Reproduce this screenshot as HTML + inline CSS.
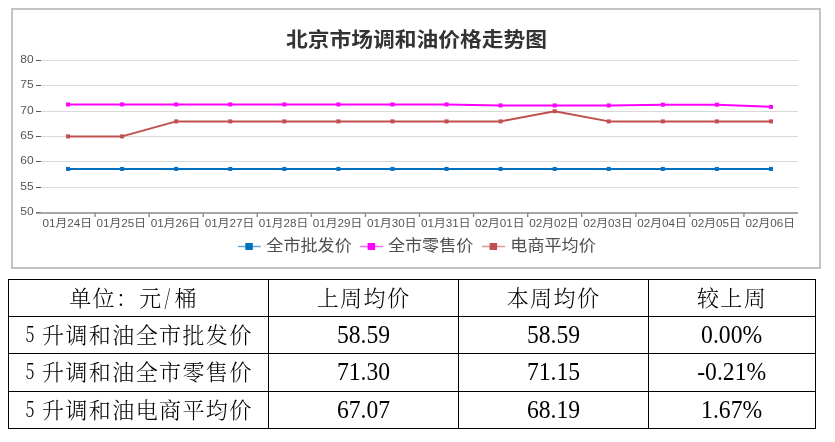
<!DOCTYPE html>
<html><head><meta charset="utf-8">
<style>
html,body{margin:0;padding:0;background:#fff;}
body{width:835px;height:442px;position:relative;overflow:hidden;}
.ax{font-family:"Liberation Sans","Noto Sans CJK SC",sans-serif;font-size:11px;fill:#555;}
.title{font-family:"Liberation Sans","Noto Sans CJK SC",sans-serif;font-size:20px;font-weight:bold;fill:#333;}
.lg{font-family:"Liberation Sans","Noto Sans CJK SC",sans-serif;font-size:16px;fill:#505050;}
.vl{position:absolute;width:1px;background:#000;}
.hl{position:absolute;height:1px;background:#000;}
.cell{position:absolute;display:flex;align-items:center;justify-content:center;
 font-family:"Noto Serif CJK SC",serif;font-weight:300;font-size:22px;letter-spacing:1.4px;color:#000;white-space:pre;line-height:1;}
.cell .d{display:inline-block;width:11.7px;letter-spacing:0;transform:translateY(-0.8px) scaleX(0.75);transform-origin:6px 50%;}
.cell .sp{display:inline-block;width:6px;}
.cell:not(.num)>span{position:relative;top:-1.5px;}
.cell.num>span{display:inline-block;transform:scaleX(0.965);}
.cell.num{font-family:"Liberation Serif",serif;font-size:24.5px;font-weight:400;letter-spacing:0;}
</style></head><body>
<svg width="835" height="272" viewBox="0 0 835 272" style="position:absolute;left:0;top:0"><rect x="12" y="9" width="808" height="259" fill="#fff" stroke="#c3c3c3" stroke-width="2"/><line x1="41.0" y1="187.50" x2="798.0" y2="187.50" stroke="#d9d9d9" stroke-width="1"/><line x1="41.0" y1="161.50" x2="798.0" y2="161.50" stroke="#d9d9d9" stroke-width="1"/><line x1="41.0" y1="136.50" x2="798.0" y2="136.50" stroke="#d9d9d9" stroke-width="1"/><line x1="41.0" y1="111.50" x2="798.0" y2="111.50" stroke="#d9d9d9" stroke-width="1"/><line x1="41.0" y1="85.50" x2="798.0" y2="85.50" stroke="#d9d9d9" stroke-width="1"/><line x1="41.0" y1="60.50" x2="798.0" y2="60.50" stroke="#d9d9d9" stroke-width="1"/><line x1="36" y1="212.50" x2="41" y2="212.50" stroke="#555" stroke-width="1"/><text x="33.6" y="215.00" text-anchor="end" class="ax" textLength="13.4" lengthAdjust="spacingAndGlyphs">50</text><line x1="36" y1="187.50" x2="41" y2="187.50" stroke="#555" stroke-width="1"/><text x="33.6" y="190.00" text-anchor="end" class="ax" textLength="13.4" lengthAdjust="spacingAndGlyphs">55</text><line x1="36" y1="161.50" x2="41" y2="161.50" stroke="#555" stroke-width="1"/><text x="33.6" y="164.00" text-anchor="end" class="ax" textLength="13.4" lengthAdjust="spacingAndGlyphs">60</text><line x1="36" y1="136.50" x2="41" y2="136.50" stroke="#555" stroke-width="1"/><text x="33.6" y="139.00" text-anchor="end" class="ax" textLength="13.4" lengthAdjust="spacingAndGlyphs">65</text><line x1="36" y1="111.50" x2="41" y2="111.50" stroke="#555" stroke-width="1"/><text x="33.6" y="114.00" text-anchor="end" class="ax" textLength="13.4" lengthAdjust="spacingAndGlyphs">70</text><line x1="36" y1="85.50" x2="41" y2="85.50" stroke="#555" stroke-width="1"/><text x="33.6" y="88.00" text-anchor="end" class="ax" textLength="13.4" lengthAdjust="spacingAndGlyphs">75</text><line x1="36" y1="60.50" x2="41" y2="60.50" stroke="#555" stroke-width="1"/><text x="33.6" y="63.00" text-anchor="end" class="ax" textLength="13.4" lengthAdjust="spacingAndGlyphs">80</text><line x1="36" y1="213" x2="798.0" y2="213" stroke="#8a8a8a" stroke-width="1.6"/><line x1="95.07" y1="213" x2="95.07" y2="217" stroke="#8a8a8a" stroke-width="1.4"/><line x1="149.14" y1="213" x2="149.14" y2="217" stroke="#8a8a8a" stroke-width="1.4"/><line x1="203.21" y1="213" x2="203.21" y2="217" stroke="#8a8a8a" stroke-width="1.4"/><line x1="257.29" y1="213" x2="257.29" y2="217" stroke="#8a8a8a" stroke-width="1.4"/><line x1="311.36" y1="213" x2="311.36" y2="217" stroke="#8a8a8a" stroke-width="1.4"/><line x1="365.43" y1="213" x2="365.43" y2="217" stroke="#8a8a8a" stroke-width="1.4"/><line x1="419.50" y1="213" x2="419.50" y2="217" stroke="#8a8a8a" stroke-width="1.4"/><line x1="473.57" y1="213" x2="473.57" y2="217" stroke="#8a8a8a" stroke-width="1.4"/><line x1="527.64" y1="213" x2="527.64" y2="217" stroke="#8a8a8a" stroke-width="1.4"/><line x1="581.71" y1="213" x2="581.71" y2="217" stroke="#8a8a8a" stroke-width="1.4"/><line x1="635.79" y1="213" x2="635.79" y2="217" stroke="#8a8a8a" stroke-width="1.4"/><line x1="689.86" y1="213" x2="689.86" y2="217" stroke="#8a8a8a" stroke-width="1.4"/><line x1="743.93" y1="213" x2="743.93" y2="217" stroke="#8a8a8a" stroke-width="1.4"/><text x="67.2" y="227.2" text-anchor="middle" class="ax" textLength="49.5" lengthAdjust="spacingAndGlyphs">01月24日</text><text x="121.3" y="227.2" text-anchor="middle" class="ax" textLength="49.5" lengthAdjust="spacingAndGlyphs">01月25日</text><text x="175.4" y="227.2" text-anchor="middle" class="ax" textLength="49.5" lengthAdjust="spacingAndGlyphs">01月26日</text><text x="229.4" y="227.2" text-anchor="middle" class="ax" textLength="49.5" lengthAdjust="spacingAndGlyphs">01月27日</text><text x="283.5" y="227.2" text-anchor="middle" class="ax" textLength="49.5" lengthAdjust="spacingAndGlyphs">01月28日</text><text x="337.6" y="227.2" text-anchor="middle" class="ax" textLength="49.5" lengthAdjust="spacingAndGlyphs">01月29日</text><text x="391.7" y="227.2" text-anchor="middle" class="ax" textLength="49.5" lengthAdjust="spacingAndGlyphs">01月30日</text><text x="445.7" y="227.2" text-anchor="middle" class="ax" textLength="49.5" lengthAdjust="spacingAndGlyphs">01月31日</text><text x="499.8" y="227.2" text-anchor="middle" class="ax" textLength="49.5" lengthAdjust="spacingAndGlyphs">02月01日</text><text x="553.9" y="227.2" text-anchor="middle" class="ax" textLength="49.5" lengthAdjust="spacingAndGlyphs">02月02日</text><text x="608.0" y="227.2" text-anchor="middle" class="ax" textLength="49.5" lengthAdjust="spacingAndGlyphs">02月03日</text><text x="662.0" y="227.2" text-anchor="middle" class="ax" textLength="49.5" lengthAdjust="spacingAndGlyphs">02月04日</text><text x="716.1" y="227.2" text-anchor="middle" class="ax" textLength="49.5" lengthAdjust="spacingAndGlyphs">02月05日</text><text x="770.2" y="227.2" text-anchor="middle" class="ax" textLength="49.5" lengthAdjust="spacingAndGlyphs">02月06日</text><polyline points="68.04,136.40 122.11,136.40 176.18,121.38 230.25,121.38 284.32,121.38 338.39,121.38 392.46,121.38 446.54,121.38 500.61,121.38 554.68,111.24 608.75,121.38 662.82,121.38 716.89,121.38 770.96,121.38" fill="none" stroke="#c0504d" stroke-width="2" stroke-linejoin="round"/><rect x="66.04" y="134.40" width="4" height="4" fill="#c0504d"/><rect x="120.11" y="134.40" width="4" height="4" fill="#c0504d"/><rect x="174.18" y="119.38" width="4" height="4" fill="#c0504d"/><rect x="228.25" y="119.38" width="4" height="4" fill="#c0504d"/><rect x="282.32" y="119.38" width="4" height="4" fill="#c0504d"/><rect x="336.39" y="119.38" width="4" height="4" fill="#c0504d"/><rect x="390.46" y="119.38" width="4" height="4" fill="#c0504d"/><rect x="444.54" y="119.38" width="4" height="4" fill="#c0504d"/><rect x="498.61" y="119.38" width="4" height="4" fill="#c0504d"/><rect x="552.68" y="109.24" width="4" height="4" fill="#c0504d"/><rect x="606.75" y="119.38" width="4" height="4" fill="#c0504d"/><rect x="660.82" y="119.38" width="4" height="4" fill="#c0504d"/><rect x="714.89" y="119.38" width="4" height="4" fill="#c0504d"/><rect x="768.96" y="119.38" width="4" height="4" fill="#c0504d"/><polyline points="68.04,104.44 122.11,104.44 176.18,104.44 230.25,104.44 284.32,104.44 338.39,104.44 392.46,104.44 446.54,104.44 500.61,105.45 554.68,105.45 608.75,105.45 662.82,104.69 716.89,104.69 770.96,106.87" fill="none" stroke="#ff00ff" stroke-width="2" stroke-linejoin="round"/><rect x="66.04" y="102.44" width="4" height="4" fill="#ff00ff"/><rect x="120.11" y="102.44" width="4" height="4" fill="#ff00ff"/><rect x="174.18" y="102.44" width="4" height="4" fill="#ff00ff"/><rect x="228.25" y="102.44" width="4" height="4" fill="#ff00ff"/><rect x="282.32" y="102.44" width="4" height="4" fill="#ff00ff"/><rect x="336.39" y="102.44" width="4" height="4" fill="#ff00ff"/><rect x="390.46" y="102.44" width="4" height="4" fill="#ff00ff"/><rect x="444.54" y="102.44" width="4" height="4" fill="#ff00ff"/><rect x="498.61" y="103.45" width="4" height="4" fill="#ff00ff"/><rect x="552.68" y="103.45" width="4" height="4" fill="#ff00ff"/><rect x="606.75" y="103.45" width="4" height="4" fill="#ff00ff"/><rect x="660.82" y="102.69" width="4" height="4" fill="#ff00ff"/><rect x="714.89" y="102.69" width="4" height="4" fill="#ff00ff"/><rect x="768.96" y="104.87" width="4" height="4" fill="#ff00ff"/><polyline points="68.04,168.92 122.11,168.92 176.18,168.92 230.25,168.92 284.32,168.92 338.39,168.92 392.46,168.92 446.54,168.92 500.61,168.92 554.68,168.92 608.75,168.92 662.82,168.92 716.89,168.92 770.96,168.92" fill="none" stroke="#0070c0" stroke-width="2" stroke-linejoin="round"/><rect x="66.04" y="166.92" width="4" height="4" fill="#0070c0"/><rect x="120.11" y="166.92" width="4" height="4" fill="#0070c0"/><rect x="174.18" y="166.92" width="4" height="4" fill="#0070c0"/><rect x="228.25" y="166.92" width="4" height="4" fill="#0070c0"/><rect x="282.32" y="166.92" width="4" height="4" fill="#0070c0"/><rect x="336.39" y="166.92" width="4" height="4" fill="#0070c0"/><rect x="390.46" y="166.92" width="4" height="4" fill="#0070c0"/><rect x="444.54" y="166.92" width="4" height="4" fill="#0070c0"/><rect x="498.61" y="166.92" width="4" height="4" fill="#0070c0"/><rect x="552.68" y="166.92" width="4" height="4" fill="#0070c0"/><rect x="606.75" y="166.92" width="4" height="4" fill="#0070c0"/><rect x="660.82" y="166.92" width="4" height="4" fill="#0070c0"/><rect x="714.89" y="166.92" width="4" height="4" fill="#0070c0"/><rect x="768.96" y="166.92" width="4" height="4" fill="#0070c0"/><text x="286" y="47" class="title" textLength="261" lengthAdjust="spacingAndGlyphs">北京市场调和油价格走势图</text><line x1="237.8" y1="246.5" x2="260.8" y2="246.5" stroke="#0070c0" stroke-width="1.5" opacity="0.6"/><rect x="245.3" y="243" width="7.5" height="7" fill="#0070c0"/><text x="266.3" y="251" class="lg" textLength="85.5" lengthAdjust="spacingAndGlyphs">全市批发价</text><line x1="360.1" y1="246.5" x2="383.1" y2="246.5" stroke="#ff00ff" stroke-width="1.5" opacity="0.6"/><rect x="367.6" y="243" width="7.5" height="7" fill="#ff00ff"/><text x="387.9" y="251" class="lg" textLength="85.5" lengthAdjust="spacingAndGlyphs">全市零售价</text><line x1="482.1" y1="246.5" x2="505.1" y2="246.5" stroke="#c0504d" stroke-width="1.5" opacity="0.6"/><rect x="489.6" y="243" width="7.5" height="7" fill="#c0504d"/><text x="510.3" y="251" class="lg" textLength="85.5" lengthAdjust="spacingAndGlyphs">电商平均价</text></svg>
<div class="vl" style="left:8px;top:279px;height:150px"></div><div class="vl" style="left:268px;top:279px;height:150px"></div><div class="vl" style="left:458px;top:279px;height:150px"></div><div class="vl" style="left:648px;top:279px;height:150px"></div><div class="vl" style="left:815px;top:279px;height:150px"></div><div class="hl" style="left:8px;top:279px;width:808px"></div><div class="hl" style="left:8px;top:316px;width:808px"></div><div class="hl" style="left:8px;top:353px;width:808px"></div><div class="hl" style="left:8px;top:391px;width:808px"></div><div class="hl" style="left:8px;top:428px;width:808px"></div><div class="cell" style="left:9px;top:280px;width:259px;height:36px;padding-right:10px;box-sizing:border-box;"><span>单位：元<span class="d">/</span>桶</span></div><div class="cell" style="left:269px;top:280px;width:189px;height:36px;"><span>上周均价</span></div><div class="cell" style="left:459px;top:280px;width:189px;height:36px;"><span>本周均价</span></div><div class="cell" style="left:649px;top:280px;width:166px;height:36px;"><span>较上周</span></div><div class="cell" style="left:9px;top:317px;width:259px;height:36px;"><span><span class="d">5</span><span class="sp"> </span>升调和油全市批发价</span></div><div class="cell num" style="left:269px;top:317px;width:189px;height:36px;"><span>58.59</span></div><div class="cell num" style="left:459px;top:317px;width:189px;height:36px;"><span>58.59</span></div><div class="cell num" style="left:649px;top:317px;width:166px;height:36px;"><span>0.00%</span></div><div class="cell" style="left:9px;top:354px;width:259px;height:37px;"><span><span class="d">5</span><span class="sp"> </span>升调和油全市零售价</span></div><div class="cell num" style="left:269px;top:354px;width:189px;height:37px;"><span>71.30</span></div><div class="cell num" style="left:459px;top:354px;width:189px;height:37px;"><span>71.15</span></div><div class="cell num" style="left:649px;top:354px;width:166px;height:37px;"><span>-0.21%</span></div><div class="cell" style="left:9px;top:392px;width:259px;height:36px;"><span><span class="d">5</span><span class="sp"> </span>升调和油电商平均价</span></div><div class="cell num" style="left:269px;top:392px;width:189px;height:36px;"><span>67.07</span></div><div class="cell num" style="left:459px;top:392px;width:189px;height:36px;"><span>68.19</span></div><div class="cell num" style="left:649px;top:392px;width:166px;height:36px;"><span>1.67%</span></div>
</body></html>
